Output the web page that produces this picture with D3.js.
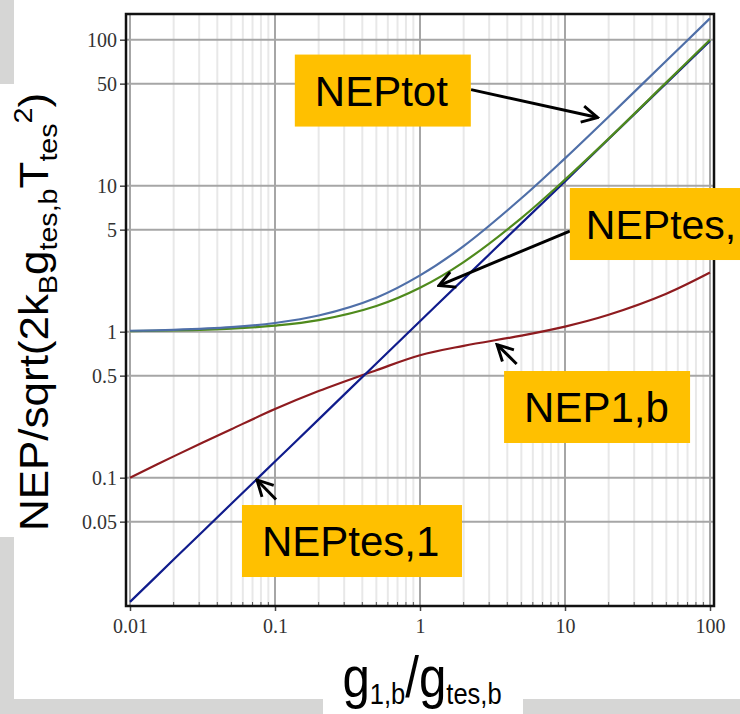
<!DOCTYPE html>
<html>
<head>
<meta charset="utf-8">
<script src="https://cdn.jsdelivr.net/npm/d3@7"></script>
<style>
  body { margin: 0; background: #d6d6d6; }
  svg { display: block; }
</style>
</head>
<body>
<script>
// values (log-log), x = g1,b / gtes,b
const xSample = [0.01, 0.02, 0.05, 0.1, 0.2, 0.5, 1, 2, 5, 10, 20, 50, 100];
const nepTot  = [1.015, 1.03, 1.074, 1.147, 1.29, 1.71, 2.43, 3.86, 8.2, 15.4, 29.7, 71.7, 140];
const nepTesB = [1.01, 1.02, 1.05, 1.10, 1.20, 1.50, 2.0, 3.0, 6.0, 11.0, 21.0, 51.0, 100];
const nepTes1 = [0.0141, 0.0275, 0.0663, 0.129, 0.251, 0.606, 1.18, 2.29, 5.52, 10.7, 20.9, 50.4, 98];
const nep1b   = [0.10, 0.14, 0.215, 0.295, 0.392, 0.545, 0.69, 0.80, 0.94, 1.084, 1.306, 1.82, 2.54];

const xTicks = [0.01, 0.1, 1, 10, 100];
const yTicks = [0.05, 0.1, 0.5, 1, 5, 10, 50, 100];

// annotation boxes: box corner and arrow in data coords
const labels     = ["NEPtot", "NEPtes,", "NEP1,b", "NEPtes,1"];
const boxCorner  = [[0.137, 79.1], [10.8, 9.64], [3.80, 0.538], [0.0592, 0.065]];
const arrowTail  = [[2.25, 45.5], [10.8, 4.89], [4.64, 0.601], [0.1016, 0.0709]];
const arrowHead  = [[16.8, 29.3], [1.35, 2.07], [3.40, 0.815], [0.0751, 0.0965]];

const W = 740, H = 714;
const svg = d3.select("body").append("svg")
    .attr("width", W)
    .attr("height", H);

// slide background pieces
svg.append("rect").attr("width", W).attr("height", H).attr("fill", "#d6d6d5");
svg.append("rect").attr("x", 14).attr("y", 0).attr("width", W - 14).attr("height", 699).attr("fill", "#fff");
svg.append("rect").attr("x", 0).attr("y", 84).attr("width", 14).attr("height", 453).attr("fill", "#fff");
svg.append("rect").attr("x", 323).attr("y", 699).attr("width", 200).attr("height", 15).attr("fill", "#fff");

const xScale = d3.scaleLog().domain([0.01, 100]).range([130, 710]);
const yScale = d3.scaleLog().domain([0.01, 100]).range([623.7, 39.7]);

const frame = {left: 126, right: 714, top: 14, bottom: 606};
const serif = "'Liberation Serif', 'DejaVu Serif', 'Times New Roman', serif";
const sans = "'Liberation Sans', Arial, sans-serif";

// minor vertical grid
const minorX = [];
xTicks.slice(0, -1).forEach(function(d){
    for (let k = 2; k < 10; k++) minorX.push(d * k);
});
svg.append("g").selectAll("line")
    .data(minorX)
    .enter().append("line")
    .attr("x1", function(d){ return xScale(d); })
    .attr("x2", function(d){ return xScale(d); })
    .attr("y1", frame.top).attr("y2", frame.bottom)
    .attr("stroke", "#e8e8e8")
    .attr("stroke-width", 2);

// major grid
svg.append("g").selectAll("line")
    .data(xTicks)
    .enter().append("line")
    .attr("x1", function(d){ return xScale(d); })
    .attr("x2", function(d){ return xScale(d); })
    .attr("y1", frame.top).attr("y2", frame.bottom)
    .attr("stroke", "#a6a6a6")
    .attr("stroke-width", 2);

svg.append("g").selectAll("line")
    .data(yTicks)
    .enter().append("line")
    .attr("x1", frame.left).attr("x2", frame.right)
    .attr("y1", function(d){ return yScale(d); })
    .attr("y2", function(d){ return yScale(d); })
    .attr("stroke", "#a6a6a6")
    .attr("stroke-width", 2);

// minor ticks at bottom
svg.append("g").selectAll("line")
    .data(minorX)
    .enter().append("line")
    .attr("x1", function(d){ return xScale(d); })
    .attr("x2", function(d){ return xScale(d); })
    .attr("y1", frame.bottom - 4).attr("y2", frame.bottom)
    .attr("stroke", "#555")
    .attr("stroke-width", 1);

// axes ticks + labels
const yAxis = svg.append("g")
    .attr("transform", "translate(" + frame.left + ",0)")
    .call(d3.axisLeft(yScale).tickValues(yTicks).tickFormat(d3.format("")).tickSize(6).tickPadding(3));
const xAxis = svg.append("g")
    .attr("transform", "translate(0," + frame.bottom + ")")
    .call(d3.axisBottom(xScale).tickValues(xTicks).tickFormat(d3.format("")).tickSize(5).tickPadding(8));
[yAxis, xAxis].forEach(function(a){
    a.attr("font-family", serif).attr("font-size", 20);
    a.select(".domain").remove();
    a.selectAll(".tick line").attr("stroke", "#444").attr("stroke-width", 1.5);
    a.selectAll("text")
        .attr("fill", "#333")
        .attr("font-family", serif)
        .style("font-family", serif)
        .style("font-size", "20px");
});

// frame
svg.append("rect")
    .attr("x", frame.left).attr("y", frame.top)
    .attr("width", frame.right - frame.left)
    .attr("height", frame.bottom - frame.top)
    .attr("fill", "none")
    .attr("stroke", "#111")
    .attr("stroke-width", 2.5);

// curves
const line = d3.line()
    .x(function(d){ return xScale(d[0]); })
    .y(function(d){ return yScale(d[1]); })
    .curve(d3.curveCatmullRom.alpha(0.5));

const series = [
    {vals: nep1b,   color: "#8e1b1f"},
    {vals: nepTes1, color: "#101c8c"},
    {vals: nepTesB, color: "#4f8a1c"},
    {vals: nepTot,  color: "#4f6fa8"}
];
series.forEach(function(s){
    svg.append("path")
        .datum(xSample.map(function(x, i){ return [x, s.vals[i]]; }))
        .attr("d", line)
        .attr("fill", "none")
        .attr("stroke", s.color)
        .attr("stroke-width", 2.2);
});

// annotations
svg.append("defs").append("marker")
    .attr("id", "head")
    .attr("viewBox", "0 0 10 10")
    .attr("refX", 9).attr("refY", 5)
    .attr("markerWidth", 6.5).attr("markerHeight", 6.5)
    .attr("markerUnits", "strokeWidth")
    .attr("orient", "auto")
    .append("path")
    .attr("d", "M1,0.8 L9,5 L1,9.2")
    .attr("fill", "none")
    .attr("stroke", "#000")
    .attr("stroke-width", 1.5);

const boxW = [176, null, 186, 220];
labels.forEach(function(lab, i){
    const bx = xScale(boxCorner[i][0]), by = yScale(boxCorner[i][1]);
    svg.append("line")
        .attr("x1", xScale(arrowTail[i][0])).attr("y1", yScale(arrowTail[i][1]))
        .attr("x2", xScale(arrowHead[i][0])).attr("y2", yScale(arrowHead[i][1]))
        .attr("stroke", "#000")
        .attr("stroke-width", 3)
        .attr("marker-end", "url(#head)");
    svg.append("rect")
        .attr("x", bx).attr("y", by)
        .attr("width", boxW[i] === null ? W - bx : boxW[i])
        .attr("height", 72)
        .attr("fill", "#ffc000");
    svg.append("text")
        .attr("x", bx + (i === 1 ? 16 : 20)).attr("y", by + 51)
        .style("font-family", sans)
        .style("font-size", i === 1 ? "41px" : "42px")
        .attr("fill", "#000")
        .text(lab);
});

// y axis title
const yt = svg.append("text")
    .attr("transform", "translate(48,312) rotate(-90) scale(1.1,1)")
    .attr("text-anchor", "middle")
    .style("font-family", sans)
    .style("font-size", "40px")
    .attr("fill", "#000");
yt.append("tspan").text("NEP/sqrt(2k");
yt.append("tspan").attr("dy", 9).style("font-size", "26px").text("B");
yt.append("tspan").attr("dy", -9).text("g");
yt.append("tspan").attr("dy", 9).style("font-size", "26px").text("tes,b");
yt.append("tspan").attr("dy", -9).text("T");
yt.append("tspan").attr("dy", 9).style("font-size", "26px").text("tes");
yt.append("tspan").attr("dy", -25).style("font-size", "26px").text("2");
yt.append("tspan").attr("dy", 16).text(")");

// x axis title
const xt = svg.append("text")
    .attr("transform", "translate(422,697) scale(0.85,1)")
    .attr("text-anchor", "middle")
    .style("font-family", sans)
    .style("font-size", "58px")
    .attr("fill", "#000");
xt.append("tspan").text("g");
xt.append("tspan").attr("dy", 7).style("font-size", "30px").text("1,b");
xt.append("tspan").attr("dy", -7).text("/");
xt.append("tspan").text("g");
xt.append("tspan").attr("dy", 7).style("font-size", "30px").text("tes,b");
</script>
</body>
</html>
